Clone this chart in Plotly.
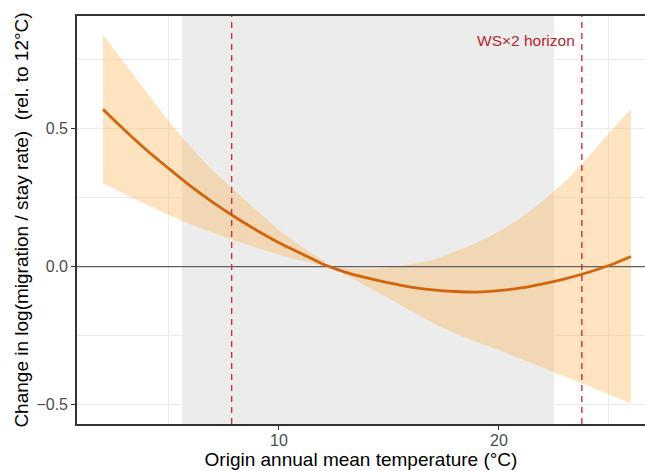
import plotly.graph_objects as go

# Origin temperature grid (°C) and fitted response with 95% band
temp = [2, 3, 4, 5, 6, 7, 8, 9, 10, 11, 12, 12.3, 13, 14, 15, 16, 17, 18, 19, 20,
        21, 22, 23, 24, 25, 26]
fit = [0.570, 0.493, 0.421, 0.355, 0.291, 0.233, 0.180, 0.131, 0.087, 0.048, 0.009,
       0.0, -0.020, -0.041, -0.059, -0.074, -0.084, -0.090, -0.092, -0.087,
       -0.077, -0.062, -0.044, -0.022, 0.004, 0.037]
upper = [0.839, 0.735, 0.630, 0.527, 0.432, 0.348, 0.275, 0.203, 0.133, 0.075, 0.023,
         0.0, -0.006, -0.008, -0.002, 0.009, 0.025, 0.055, 0.087, 0.127,
         0.177, 0.238, 0.309, 0.392, 0.483, 0.570]
lower = [0.302, 0.262, 0.224, 0.187, 0.153, 0.123, 0.095, 0.068, 0.043, 0.022, 0.005,
         0.0, -0.028, -0.072, -0.115, -0.160, -0.204, -0.241, -0.273, -0.302,
         -0.334, -0.366, -0.398, -0.430, -0.462, -0.495]

# Observed support of origin temperatures, and the two reference temperatures
support = [5.6, 22.5]
markers = [7.85, 23.77]
marker_label = "WS×2 horizon"

x_range = [0.82, 26.64]
y_range = [-0.570, 0.908]

FONT = "Liberation Sans, Arial, sans-serif"
fig = go.Figure()

fig.add_trace(go.Scatter(x=temp, y=upper, mode="lines", line=dict(width=0, shape="spline", smoothing=0.6),
                         hoverinfo="skip", showlegend=False))
fig.add_trace(go.Scatter(x=temp, y=lower, mode="lines", line=dict(width=0, shape="spline", smoothing=0.6),
                         fill="tonexty", fillcolor="rgba(253,184,99,0.40)",
                         hoverinfo="skip", showlegend=False))
# reference line at zero
fig.add_trace(go.Scatter(x=x_range, y=[0, 0], mode="lines",
                         line=dict(color="#5f5f5f", width=1.2), hoverinfo="skip", showlegend=False))
fig.add_trace(go.Scatter(x=temp, y=fit, mode="lines",
                         line=dict(color="#D2640A", width=2.8, shape="spline", smoothing=0.8),
                         showlegend=False))

fig.add_shape(type="rect", xref="x", yref="paper", x0=support[0], x1=support[1], y0=0, y1=1,
              fillcolor="rgba(195,195,195,0.32)", line=dict(width=0), layer="between")
for m in markers:
    fig.add_shape(type="line", xref="x", yref="paper", x0=m, x1=m, y0=0, y1=1,
                  line=dict(color="#C8303A", width=1.4, dash="6px,5px"), layer="above")

fig.add_annotation(x=markers[1], y=0.819, xref="x", yref="y", text=marker_label,
                   showarrow=False, xanchor="right", yanchor="middle", xshift=-5,
                   font=dict(family=FONT, size=15.5, color="#B8262E"))

fig.update_xaxes(range=x_range, tickvals=[10, 20], ticks="outside", ticklen=4, tickwidth=1.1,
                 tickcolor="#333333", showline=True, linecolor="#333333", linewidth=1.6, mirror=True,
                 showgrid=True, gridcolor="#EBEBEB", gridwidth=1.1,
                 minor=dict(tickvals=[5, 15, 25], showgrid=True, gridcolor="#EBEBEB", gridwidth=0.6, ticks=""),
                 zeroline=False, tickfont=dict(family=FONT, size=16, color="#4D4D4D"),
                 ticklabelstandoff=-3,
                 title=dict(text="Origin annual mean temperature (°C)", standoff=5,
                            font=dict(family=FONT, size=19, color="#000000")))
fig.update_yaxes(range=y_range, tickvals=[-0.5, 0.0, 0.5], ticktext=["−0.5", "0.0", "0.5"],
                 ticks="outside", ticklen=4, tickwidth=1.1, tickcolor="#333333",
                 showline=True, linecolor="#333333", linewidth=1.6, mirror=False,
                 showgrid=True, gridcolor="#EBEBEB", gridwidth=1.1,
                 minor=dict(tickvals=[-0.25, 0.25, 0.75], showgrid=True, gridcolor="#EBEBEB", gridwidth=0.6, ticks=""),
                 zeroline=False, tickfont=dict(family=FONT, size=16, color="#4D4D4D"),
                 title=dict(text="Change in log(migration / stay rate) \u00a0(rel. to 12°C)", standoff=3,
                            font=dict(family=FONT, size=19, color="#000000")))

fig.update_layout(width=645, height=471, margin=dict(l=77, r=0, t=16, b=47),
                  paper_bgcolor="white", plot_bgcolor="white", showlegend=False)

fig.write_html("out.html")
